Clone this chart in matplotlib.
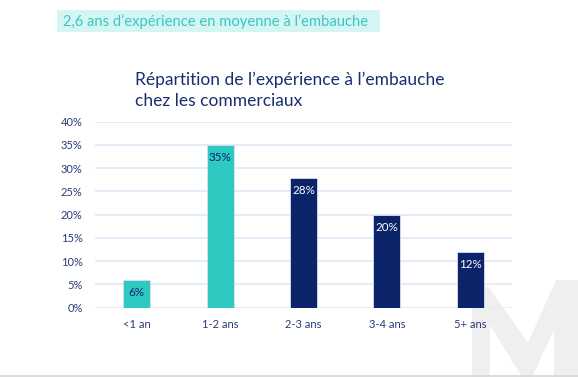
import matplotlib
matplotlib.use("Agg")
import matplotlib.pyplot as plt
from matplotlib.patches import Rectangle, Polygon

categories = ["<1 an", "1-2 ans", "2-3 ans", "3-4 ans", "5+ ans"]
values = [6, 35, 28, 20, 12]
labels = ["6%", "35%", "28%", "20%", "12%"]
yticks = [0, 5, 10, 15, 20, 25, 30, 35, 40]
ytick_labels = ["0%", "5%", "10%", "15%", "20%", "25%", "30%", "35%", "40%"]

TEAL = "#2ec9c1"
NAVY = "#0b2369"
TXT = "#2d3a78"
bar_colors = [TEAL, TEAL, NAVY, NAVY, NAVY]
label_colors = [NAVY, NAVY, "white", "white", "white"]

plt.rcParams['font.family'] = ['Lato', 'DejaVu Sans']

W, H = 578, 377
fig = plt.figure(figsize=(W/100, H/100), dpi=100)
fig.patch.set_facecolor("white")

def fx(px): return px / W
def fy(py): return 1 - py / H

# watermark M (decorative background)
pts = [(472,377),(472,300),(488,286),(528,343),(556,280),(578,280),(578,377),
       (554,377),(554,330),(532,377),(522,377),(490,325),(490,377)]
fig.patches.append(Polygon([(fx(x), fy(y)) for x, y in pts], closed=True,
                           transform=fig.transFigure, facecolor="#efefef",
                           edgecolor="none", zorder=-5))
# bottom border line
fig.add_artist(plt.Line2D([0, 1], [fy(375.5), fy(375.5)], transform=fig.transFigure,
                          color="#d6d6d6", lw=1.2, zorder=-4))

# banner
fig.patches.append(Rectangle((fx(57), fy(32)), fx(380) - fx(57), fy(10) - fy(32),
                             transform=fig.transFigure, facecolor="#d3f5f3",
                             edgecolor="none", zorder=1))
fig.text(fx(63), fy(26), "2,6 ans d\u2019exp\u00e9rience en moyenne \u00e0 l\u2019embauche",
         color="#3cc6c0", fontsize=10.65, va="baseline", ha="left", zorder=2)

# title
fig.text(fx(135), fy(85), "R\u00e9partition de l\u2019exp\u00e9rience \u00e0 l\u2019embauche",
         color="#1b2d6e", fontsize=12.5, va="baseline", ha="left")
fig.text(fx(135), fy(105.5), "chez les commerciaux",
         color="#1b2d6e", fontsize=12.5, va="baseline", ha="left")

ax = fig.add_axes([fx(95), fy(307.7), fx(512) - fx(95), fy(121.7) - fy(307.7)])
ax.set_facecolor("none")
x = list(range(len(categories)))
bars = ax.bar(x, values, width=0.325, color=bar_colors, edgecolor="#d8e0f4",
              linewidth=0.6, zorder=3)
for b, lab, c in zip(bars, labels, label_colors):
    ax.annotate(lab, (b.get_x() + b.get_width()/2, b.get_height()),
                xytext=(0, -9), textcoords="offset points", ha="center",
                va="center", color=c, fontsize=8.4, zorder=4)

ax.set_xlim(-0.5, len(categories) - 0.5)
ax.set_ylim(0, 40)
ax.set_yticks(yticks)
ax.set_yticklabels(ytick_labels)
ax.set_xticks(x)
ax.set_xticklabels(categories)
ax.grid(axis="y", color="#e4e9f8", lw=1.3, zorder=0)
ax.set_axisbelow(True)
for s in ax.spines.values():
    s.set_visible(False)
ax.tick_params(axis="y", length=0, pad=9, labelsize=8, labelcolor=TXT)
ax.tick_params(axis="x", length=0, pad=8, labelsize=8, labelcolor=TXT)

fig.savefig("out.png", dpi=100)
